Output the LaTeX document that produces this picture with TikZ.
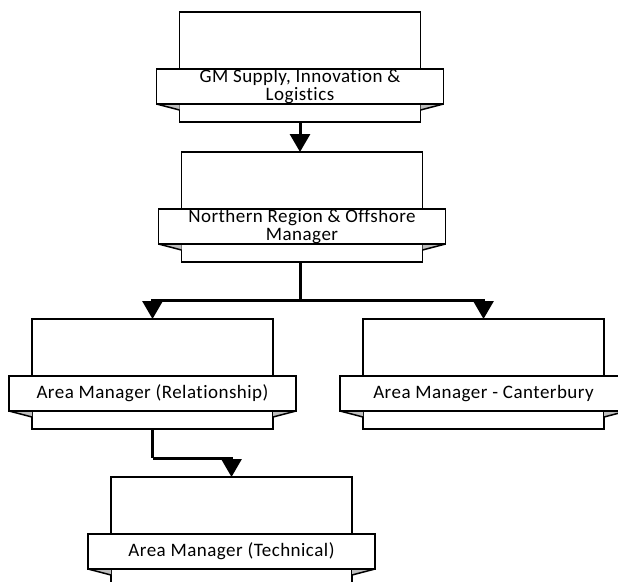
\documentclass[tikz,border=0pt]{standalone}
\usepackage{fontspec}
\newfontfamily\bannerfnt{Carlito}[LetterSpace=2.5,Ligatures={NoCommon}]
\usetikzlibrary{arrows.meta}
\tikzset{
  orgbox/.style={draw, line width=1.8pt, fill=white, minimum width=241pt, minimum height=110pt, inner sep=0pt, outer sep=0pt, anchor=north},
  banner/.style={draw, line width=1.8pt, fill=white, minimum width=287pt, minimum height=35pt, inner sep=0pt, outer sep=0pt, align=center, font=\bannerfnt\fontsize{19}{18.3}\selectfont},
  fold/.style={fill=black!25},
  foldline/.style={line width=1.5pt},
  conn/.style={line width=3pt, -{Triangle[width=20pt,length=18pt]}},
  connplain/.style={line width=3pt}
}
\newcommand{\orgunit}[4]{%
  \node[orgbox] (#1) at (#2,#3) {};
  \node[banner] (#1b) at (#2,#3+74.5) {#4};
  \fill[fold] (#1b.south west) -- (#1.west |- #1b.south) -- ([yshift=-6pt]#1.west |- #1b.south) -- cycle;
  \fill[fold] (#1b.south east) -- (#1.east |- #1b.south) -- ([yshift=-6pt]#1.east |- #1b.south) -- cycle;
  \draw[foldline] (#1b.south west) -- ([yshift=-6pt]#1.west |- #1b.south);
  \draw[foldline] (#1b.south east) -- ([yshift=-6pt]#1.east |- #1b.south);
  \draw[line width=1.8pt] (#1b.south west) -- (#1b.south east);
}
\begin{document}
\begin{tikzpicture}[x=1pt,y=-1pt]
\useasboundingbox (0,0) rectangle (618,581);
\clip (0,0) rectangle (618,581);
\orgunit{gm}{300}{12}{GM Supply, Innovation \&\\Logistics}
\orgunit{nr}{302}{152}{Northern Region \& Offshore\\Manager}
\orgunit{rel}{152.5}{319}{Area Manager (Relationship)}
\orgunit{can}{483.5}{319}{Area Manager - Canterbury}
\orgunit{tec}{231.5}{477}{Area Manager (Technical)}
\coordinate (split) at (300,300);
\coordinate (bend) at (152.5,458);
\draw[conn] (gm.south) -- (gm.south |- nr.north);
\draw[connplain] (nr.south -| split) -- (split);
\draw[conn] (split) -| (rel.north);
\draw[conn] (split) -| (can.north);
\draw[connplain] (rel.south) -- (bend);
\draw[conn] (bend) -| (tec.north);
\end{tikzpicture}
\end{document}
